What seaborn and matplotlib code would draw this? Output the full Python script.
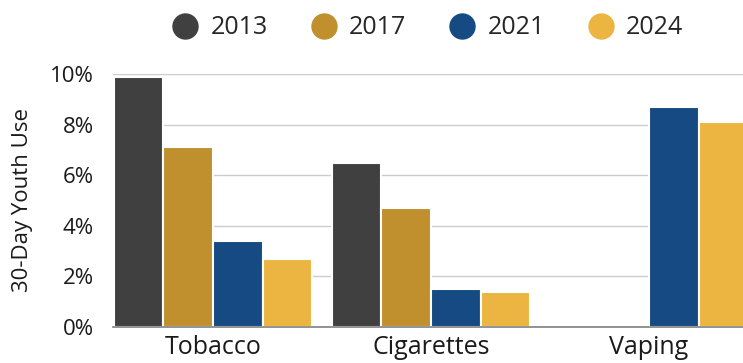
import matplotlib
matplotlib.use("Agg")
import matplotlib.pyplot as plt
from matplotlib.lines import Line2D
from matplotlib.ticker import FuncFormatter
import seaborn as sns
import pandas as pd
import numpy as np

categories = ["Tobacco", "Cigarettes", "Vaping"]
years = ["2013", "2017", "2021", "2024"]
v2013 = [9.9, 6.5, np.nan]
v2017 = [7.1, 4.7, np.nan]
v2021 = [3.4, 1.5, 8.7]
v2024 = [2.7, 1.4, 8.1]
colors = ["#404040", "#C0902E", "#154A82", "#ECB542"]

rows = []
for yr, vals in zip(years, [v2013, v2017, v2021, v2024]):
    for c, v in zip(categories, vals):
        rows.append({"Category": c, "Year": yr, "Value": v})
df = pd.DataFrame(rows)

sns.set_style("white")
plt.rcParams["font.family"] = ["Open Sans", "DejaVu Sans"]

fig = plt.figure(figsize=(7.43, 3.63), dpi=100)
ax = fig.add_axes([113 / 743, 36 / 363, 636 / 743, 253 / 363])

sns.barplot(data=df, x="Category", y="Value", hue="Year", order=categories,
            hue_order=years, palette=colors, width=0.91, ax=ax,
            edgecolor="white", linewidth=1.5, saturation=1, legend=False)

ax.set_ylim(0, 10)
ax.set_xlim(-0.459, 2.459)
ax.set_yticks([0, 2, 4, 6, 8, 10])
ax.yaxis.set_major_formatter(FuncFormatter(lambda v, p: f"{v:.0f}%"))
ax.grid(axis="y", color="#CCCCCC", linewidth=1)
ax.set_axisbelow(True)
for s in ["top", "right", "left"]:
    ax.spines[s].set_visible(False)
ax.spines["bottom"].set_color("#808080")
ax.spines["bottom"].set_linewidth(1.2)
ax.tick_params(axis="y", labelsize=16, colors="#1a1a1a", length=0, pad=14)
ax.tick_params(axis="x", labelsize=18, colors="#1a1a1a", length=0, pad=6)
ax.set_xlabel("")
ax.set_ylabel("30-Day Youth Use", fontsize=16, color="#1a1a1a", labelpad=12)

handles = [Line2D([0], [0], marker="o", linestyle="", markersize=18,
                  markerfacecolor=c, markeredgecolor=c) for c in colors]
fig.legend(handles, years, loc="center", bbox_to_anchor=(428 / 743, 1 - 28 / 363),
           ncol=4, frameon=False, fontsize=18, handletextpad=0.5,
           columnspacing=1.75, handlelength=1.0)

fig.savefig("out.png", dpi=100)
